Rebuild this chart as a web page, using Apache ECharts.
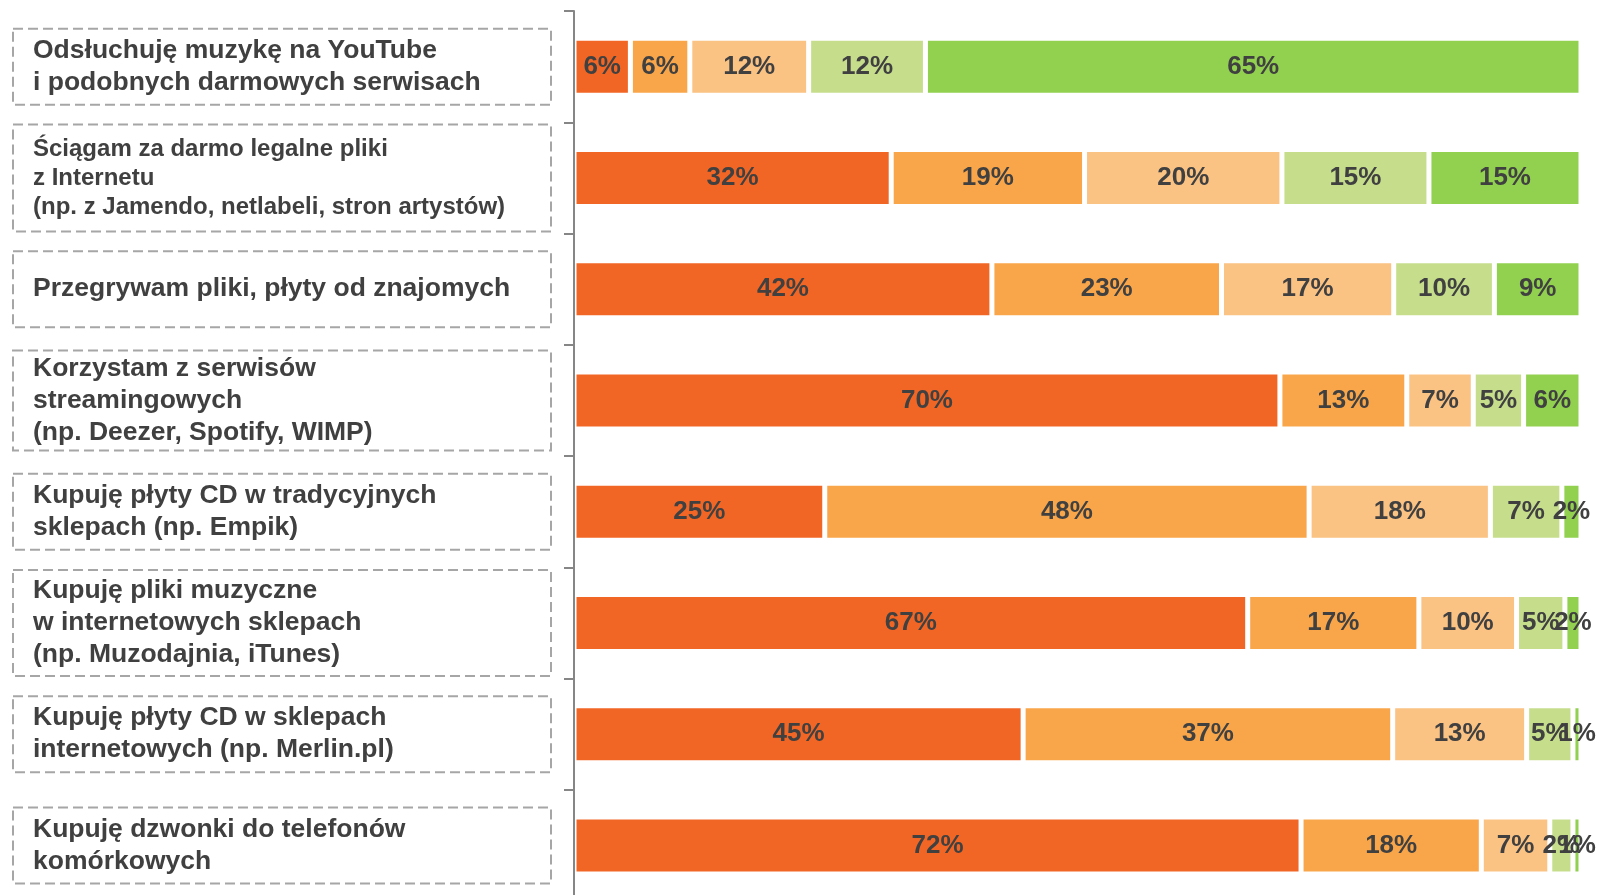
<!DOCTYPE html>
<html>
<head>
<meta charset="utf-8">
<script src="https://cdn.jsdelivr.net/npm/echarts@6/dist/echarts.min.js"></script>
<style>
    html, body { margin: 0; padding: 0; background: #fff; }
    #chart { width: 1598px; height: 895px; }
</style>
</head>
<body>
<div id="chart"></div>
<script>
    // categories, top to bottom
    let categories = [
        'Odsłuchuję muzykę na YouTube\ni podobnych darmowych serwisach',
        'Ściągam za darmo legalne pliki\nz Internetu\n(np. z Jamendo, netlabeli, stron artystów)',
        'Przegrywam pliki, płyty od znajomych',
        'Korzystam z serwisów\nstreamingowych\n(np. Deezer, Spotify, WIMP)',
        'Kupuję płyty CD w tradycyjnych\nsklepach (np. Empik)',
        'Kupuję pliki muzyczne\nw internetowych sklepach\n(np. Muzodajnia, iTunes)',
        'Kupuję płyty CD w sklepach\ninternetowych (np. Merlin.pl)',
        'Kupuję dzwonki do telefonów\nkomórkowych'
    ]

    // percentages per answer level
    let level1 = [5.6, 31.5, 41.5, 70.1, 24.9, 66.9, 44.6, 72.2]
    let level2 = [5.9, 19.2, 22.8, 12.6, 48.1, 17.0, 36.7, 17.9]
    let level3 = [11.8, 19.6, 17.1, 6.6, 18.0, 9.7, 13.3, 6.8]
    let level4 = [11.6, 14.6, 10.0, 5.0, 7.1, 4.8, 4.6, 2.3]
    let level5 = [65.1, 15.1, 8.6, 5.7, 1.9, 1.6, 0.8, 0.8]

    let colors = ['#f26625', '#f9a64a', '#fac283', '#c6de8c', '#92d050']
    let font = '"Liberation Sans", Arial, sans-serif'

    // box padding for each label [top, right, bottom, left]
    let boxPadding = [
        [6, 10, 6, 20],
        [10, 10, 10, 20],
        [22, 10, 22, 20],
        [2, 10, 2, 20],
        [6, 10, 6, 20],
        [5, 10, 5, 20],
        [6, 10, 6, 20],
        [6, 10, 6, 20]
    ]

    let yData = categories.map(function (c, i) {
        return {
            value: c,
            textStyle: {
                padding: boxPadding[i]
            }
        }
    })

    function makeSeries(name, data, color) {
        return {
            name: name,
            type: 'bar',
            stack: 'total',
            barWidth: 57,
            data: data,
            itemStyle: {
                color: color,
                borderColor: '#ffffff',
                borderWidth: 2.5
            },
            label: {
                show: true,
                position: 'inside',
                fontFamily: font,
                fontSize: 26,
                fontWeight: 'bold',
                color: '#404040',
                textBorderWidth: 0,
                formatter: function (p) {
                    return Math.round(p.value) + '%'
                }
            }
        }
    }

    let chart = echarts.init(document.getElementById('chart'))
    chart.setOption({
        animation: false,
        grid: {
            left: 574,
            right: 17,
            top: 11,
            height: 890,
            outerBoundsMode: 'none',
            containLabel: false
        },
        xAxis: {
            type: 'value',
            min: 0,
            max: 100,
            show: false
        },
        yAxis: {
            type: 'category',
            inverse: true,
            data: yData,
            z: 5,
            axisLine: {
                show: true,
                lineStyle: { color: '#868686', width: 2 }
            },
            axisTick: {
                show: true,
                length: 10,
                lineStyle: { color: '#868686', width: 2 }
            },
            axisLabel: {
                interval: 0,
                margin: 23,
                width: 508,
                overflow: 'none',
                fontFamily: font,
                fontWeight: 'bold',
                fontSize: 26.5,
                color: '#404040',
                borderColor: '#a6a6a6',
                borderWidth: 2,
                borderType: [10, 5],
                formatter: function (value, index) {
                    let key = index === 1 ? 's' : 't'
                    return value.split('\n').map(function (line) {
                        return '{' + key + '|' + line + '}'
                    }).join('\n')
                },
                rich: {
                    t: {
                        align: 'left',
                        fontFamily: font,
                        fontWeight: 'bold',
                        fontSize: 26.5,
                        lineHeight: 32,
                        color: '#404040'
                    },
                    s: {
                        align: 'left',
                        fontFamily: font,
                        fontWeight: 'bold',
                        fontSize: 24,
                        lineHeight: 29,
                        color: '#404040'
                    }
                }
            }
        },
        series: [
            makeSeries('1', level1, colors[0]),
            makeSeries('2', level2, colors[1]),
            makeSeries('3', level3, colors[2]),
            makeSeries('4', level4, colors[3]),
            makeSeries('5', level5, colors[4])
        ]
    })
</script>
</body>
</html>
